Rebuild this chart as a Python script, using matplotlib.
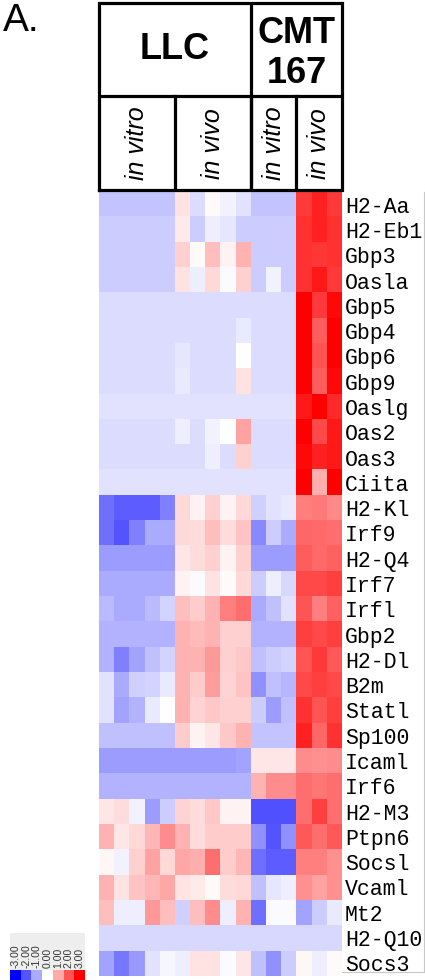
import numpy as np
import matplotlib
matplotlib.use("Agg")
import matplotlib.pyplot as plt
from matplotlib.colors import LinearSegmentedColormap
from matplotlib.lines import Line2D

W, H = 425, 980

# genes (rows) and sample groups (columns)
genes = ["H2-Aa", "H2-Eb1", "Gbp3", "Oasla", "Gbp5", "Gbp4", "Gbp6", "Gbp9",
         "Oaslg", "Oas2", "Oas3", "Ciita", "H2-Kl", "Irf9", "H2-Q4", "Irf7",
         "Irfl", "Gbp2", "H2-Dl", "B2m", "Statl", "Sp100", "Icaml", "Irf6",
         "H2-M3", "Ptpn6", "Socsl", "Vcaml", "Mt2", "H2-Q10", "Socs3"]
cell_lines = ["LLC", "CMT\n167"]
line_sizes = [10, 6]
conditions = ["in vitro", "in vivo", "in vitro", "in vivo"]
cond_sizes = [5, 5, 3, 3]
scale_ticks = [-3, -2, -1, 0, 1, 2, 3]

# log-ratio per gene, 16 samples
expr = [
    [-0.7, -0.7, -0.7, -0.7, -0.7, 0.35, -0.4, 0.05, -0.15, -0.35, -0.7, -0.7, -0.7, 2.3, 2.6, 2.3],
    [-0.6, -0.6, -0.6, -0.6, -0.6, 0.25, -0.6, -0.2, -0.3, -0.6, -0.6, -0.6, -0.6, 2.4, 2.6, 2.4],
    [-0.6, -0.6, -0.6, -0.6, -0.6, 0.55, 0.05, 0.75, 0.15, 0.9, -0.6, -0.6, -0.6, 2.4, 2.35, 2.4],
    [-0.6, -0.6, -0.6, -0.6, -0.6, 0.35, -0.2, 0.45, -0.05, 0.55, -0.6, -0.15, -0.6, 2.4, 2.7, 2.3],
    [-0.4, -0.4, -0.4, -0.4, -0.4, -0.4, -0.4, -0.4, -0.4, -0.4, -0.4, -0.4, -0.4, 3.0, 2.3, 2.9],
    [-0.4, -0.4, -0.4, -0.4, -0.4, -0.4, -0.4, -0.4, -0.4, -0.25, -0.4, -0.4, -0.4, 3.0, 1.9, 3.0],
    [-0.4, -0.4, -0.4, -0.4, -0.4, -0.3, -0.4, -0.4, -0.4, 0.0, -0.4, -0.4, -0.4, 3.0, 2.0, 3.0],
    [-0.4, -0.4, -0.4, -0.4, -0.4, -0.25, -0.4, -0.4, -0.4, 0.35, -0.4, -0.4, -0.4, 3.0, 1.9, 2.9],
    [-0.35, -0.35, -0.35, -0.35, -0.35, -0.35, -0.35, -0.35, -0.35, -0.35, -0.35, -0.35, -0.35, 2.7, 3.0, 2.5],
    [-0.4, -0.4, -0.4, -0.4, -0.4, -0.2, -0.4, -0.15, 0.0, 1.1, -0.4, -0.4, -0.4, 3.0, 2.15, 2.7],
    [-0.4, -0.4, -0.4, -0.4, -0.4, -0.4, -0.4, -0.2, -0.4, 0.55, -0.4, -0.4, -0.4, 2.9, 2.6, 2.7],
    [-0.35, -0.35, -0.35, -0.35, -0.35, -0.35, -0.35, -0.35, -0.35, -0.35, -0.35, -0.35, -0.35, 3.0, 0.95, 3.0],
    [-1.7, -1.9, -1.9, -1.9, -1.5, 0.45, 0.15, 0.55, 0.15, 0.45, -0.55, -0.35, -0.25, 1.5, 1.55, 1.4],
    [-1.7, -2.0, -1.5, -1.0, -1.0, 0.45, 0.4, 0.75, 0.4, 0.7, -1.4, -0.6, -1.0, 1.8, 1.75, 1.7],
    [-1.15, -1.15, -1.15, -1.15, -1.15, 0.3, 0.4, 0.55, 0.15, 0.55, -1.15, -1.15, -1.15, 1.9, 1.75, 1.85],
    [-1.0, -1.0, -1.0, -1.0, -1.0, 0.15, -0.05, 0.35, 0.05, 0.45, -0.6, -0.2, -0.45, 2.15, 2.15, 2.25],
    [-0.8, -1.0, -1.0, -0.8, -0.5, 0.75, 0.6, 0.9, 1.5, 1.7, -1.0, -0.75, -0.35, 2.0, 1.5, 1.85],
    [-0.9, -0.9, -0.9, -0.9, -0.9, 0.9, 0.8, 0.9, 0.55, 0.55, -0.9, -0.9, -0.9, 2.25, 2.15, 2.25],
    [-0.9, -1.5, -1.1, -0.75, -0.5, 0.9, 0.9, 1.2, 0.55, 0.65, -0.75, -0.6, -0.5, 2.0, 2.3, 1.95],
    [-0.35, -1.0, -0.55, -0.5, -0.25, 0.9, 0.6, 1.15, 0.5, 0.7, -1.3, -0.75, -0.85, 2.15, 2.25, 2.15],
    [-0.35, -1.1, -0.9, -0.25, 0.0, 0.9, 0.5, 0.65, 0.55, 0.55, -0.6, -1.15, -0.75, 2.4, 2.0, 2.25],
    [-0.75, -0.75, -0.75, -0.75, -0.75, 0.6, 0.15, 0.3, 0.65, 0.9, -0.7, -0.7, -0.7, 2.6, 1.8, 2.4],
    [-1.15, -1.15, -1.15, -1.15, -1.15, -1.15, -1.15, -1.15, -1.15, -1.1, 0.3, 0.3, 0.3, 1.35, 1.3, 1.35],
    [-0.9, -0.9, -0.9, -0.9, -0.9, -0.9, -0.9, -0.9, -0.9, -0.9, 0.9, 1.35, 1.35, 1.7, 1.6, 1.7],
    [0.3, 0.4, -0.15, -1.15, -0.6, 0.5, 0.4, 0.65, 0.15, 0.15, -2.05, -2.05, -2.05, 1.7, 2.25, 1.7],
    [0.9, 0.3, 0.45, 0.85, 1.35, 0.9, 0.4, 0.6, 0.6, 0.6, -1.3, -2.0, -1.3, 1.95, 1.7, 1.95],
    [0.1, -0.15, 0.55, 1.1, 0.45, 1.05, 0.95, 1.7, 0.6, 0.85, -1.7, -1.9, -1.9, 1.5, 1.5, 1.3],
    [0.9, 0.35, 0.7, 0.85, 1.05, 0.35, 0.25, 0.05, 0.4, 0.45, -0.75, -0.3, -0.2, 1.3, 1.1, 1.3],
    [0.75, -0.2, -0.2, 1.2, 0.75, -0.55, 0.75, 1.35, -0.2, 0.9, -1.7, -0.05, -0.05, -1.1, -0.6, -0.25],
    [-0.45, -0.45, -0.45, -0.45, -0.45, -0.45, -0.45, -0.45, -0.45, -0.45, -0.45, -0.45, -0.45, -0.45, -0.45, -0.45],
    [-1.1, -1.6, -1.2, -0.35, -0.1, -0.2, 0.35, 0.35, -0.05, 0.3, -0.75, -1.3, -0.6, 0.1, -0.2, 0.05],
]

cmap = LinearSegmentedColormap.from_list("bwr_clean", ["#0000ff", "#ffffff", "#ff0000"])

fig = plt.figure(figsize=(W / 100, H / 100), dpi=100)


def px_axes(x0, y0, x1, y1):
    # axes placed by pixel box, y measured from the top
    return fig.add_axes([x0 / W, 1 - y1 / H, (x1 - x0) / W, (y1 - y0) / H])


# heatmap
ax = px_axes(99, 192, 342, 976)
data = np.array(expr)
ax.imshow(data, cmap=cmap, vmin=-3, vmax=3, aspect="auto", interpolation="nearest")
ax.set_xticks([])
ax.set_yticks(range(len(genes)))
ax.set_yticklabels(genes, family="Liberation Mono", fontsize=15.5)
ax.yaxis.tick_right()
ax.tick_params(axis="y", length=0, pad=2)
for s in ax.spines.values():
    s.set_visible(False)

# thin frame around the gene names
fig.add_artist(Line2D([424 / W, 424 / W], [1 - 972 / H, 1 - 192 / H], color="#c8c8c8", lw=0.8))
fig.add_artist(Line2D([342 / W, 424 / W], [1 - 972 / H, 1 - 972 / H], color="#c8c8c8", lw=0.8))

# header table
hx = px_axes(99, 3, 342, 190)
hx.set_xlim(-0.5, data.shape[1] - 0.5)
hx.set_ylim(0, 1)
hx.axis("off")
lw = 2.3
x_lo, x_hi = -0.5, data.shape[1] - 0.5
hx.plot([x_lo, x_hi, x_hi, x_lo, x_lo], [0, 0, 1, 1, 0], color="black", lw=lw, clip_on=False,
        solid_joinstyle="miter")
hx.plot([x_lo, x_hi], [0.503, 0.503], color="black", lw=lw)

edges = np.cumsum([0] + line_sizes) - 0.5
for b in edges[1:-1]:
    hx.plot([b, b], [0, 1], color="black", lw=lw)
for name, a, b in zip(cell_lines, edges[:-1], edges[1:]):
    hx.text((a + b) / 2, 0.75 if "\n" not in name else 0.73, name, ha="center", va="center",
            family="Liberation Sans", weight="bold", fontsize=26, linespacing=1.15)

cedges = np.cumsum([0] + cond_sizes) - 0.5
for b in cedges[1:-1]:
    hx.plot([b, b], [0, 0.503], color="black", lw=lw)
for name, a, b in zip(conditions, cedges[:-1], cedges[1:]):
    hx.text((a + b) / 2, 0.25, name, ha="center", va="center", rotation=90,
            family="Liberation Sans", style="italic", fontsize=18)

# panel letter
fig.text(3 / W, 1 - 31 / H, "A.", family="Liberation Sans", fontsize=28, ha="left", va="baseline")

# colour key
kx = px_axes(10, 933, 85, 970)
kx.set_facecolor("#eeeeee")
kx.set_xlim(-0.5, len(scale_ticks) - 0.5)
kx.set_ylim(0, 1)
kx.set_xticks([])
kx.set_yticks([])
for s in kx.spines.values():
    s.set_visible(False)
for i, v in enumerate(scale_ticks):
    kx.text(i, 0.06, f"{v:.2f}", rotation=90, ha="center", va="bottom",
            family="Liberation Sans", fontsize=7.5, color="#333333")

cx = px_axes(10, 970, 85, 980)
cx.imshow(np.array([scale_ticks]), cmap=cmap, vmin=-3, vmax=3, aspect="auto", interpolation="nearest")
cx.axis("off")

fig.savefig("out.png", dpi=100)
